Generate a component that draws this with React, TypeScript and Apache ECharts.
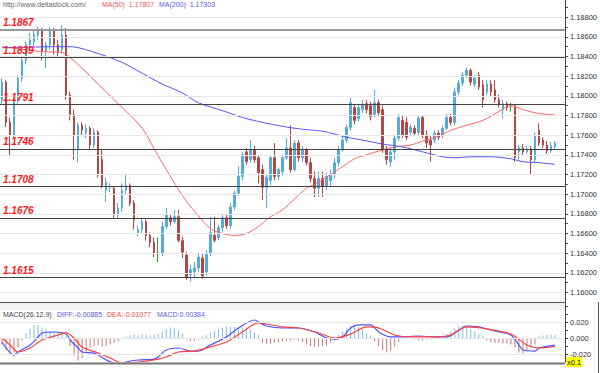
import React, { useEffect, useRef } from "react";
import * as echarts from "echarts";

// Candles: [open, close, low, high]
const candles: number[][] = [
  [1.1796, 1.1814, 1.1792, 1.1818], [1.1814, 1.1773, 1.1768, 1.1816], [1.1773, 1.1760, 1.1740, 1.1778],
  [1.1760, 1.1796, 1.1757, 1.1799], [1.1796, 1.1818, 1.1792, 1.1821], [1.1818, 1.1836, 1.1814, 1.1840],
  [1.1836, 1.1852, 1.1832, 1.1855], [1.1852, 1.1857, 1.1845, 1.1864], [1.1855, 1.1862, 1.1850, 1.1867],
  [1.1862, 1.1867, 1.1857, 1.1870], [1.1867, 1.1845, 1.1836, 1.1869], [1.1845, 1.1852, 1.1828, 1.1855],
  [1.1852, 1.1867, 1.1847, 1.1870], [1.1867, 1.1852, 1.1842, 1.1869], [1.1852, 1.1845, 1.1840, 1.1857],
  [1.1847, 1.1862, 1.1843, 1.1872], [1.1862, 1.1801, 1.1796, 1.1869], [1.1801, 1.1781, 1.1775, 1.1804],
  [1.1781, 1.1760, 1.1735, 1.1786], [1.1745, 1.1770, 1.1732, 1.1773], [1.1770, 1.1765, 1.1759, 1.1773],
  [1.1763, 1.1767, 1.1757, 1.1771], [1.1767, 1.1750, 1.1745, 1.1769], [1.1750, 1.1763, 1.1747, 1.1767],
  [1.1763, 1.1720, 1.1717, 1.1765], [1.1735, 1.1709, 1.1706, 1.1745], [1.1704, 1.1712, 1.1692, 1.1717],
  [1.1707, 1.1708, 1.1702, 1.1711], [1.1706, 1.1679, 1.1676, 1.1708], [1.1679, 1.1686, 1.1675, 1.1691],
  [1.1686, 1.1704, 1.1682, 1.1711], [1.1704, 1.1709, 1.1700, 1.1720], [1.1709, 1.1691, 1.1688, 1.1711],
  [1.1691, 1.1674, 1.1664, 1.1694], [1.1660, 1.1664, 1.1657, 1.1668], [1.1664, 1.1672, 1.1660, 1.1676],
  [1.1672, 1.1658, 1.1653, 1.1674], [1.1658, 1.1651, 1.1646, 1.1661], [1.1651, 1.1640, 1.1636, 1.1656],
  [1.1640, 1.1640, 1.1631, 1.1656], [1.1640, 1.1667, 1.1637, 1.1672], [1.1667, 1.1679, 1.1664, 1.1686],
  [1.1676, 1.1672, 1.1668, 1.1680], [1.1672, 1.1677, 1.1670, 1.1684], [1.1677, 1.1653, 1.1651, 1.1684],
  [1.1653, 1.1641, 1.1635, 1.1657], [1.1638, 1.1616, 1.1613, 1.1641], [1.1618, 1.1623, 1.1611, 1.1628],
  [1.1621, 1.1625, 1.1615, 1.1631], [1.1625, 1.1636, 1.1621, 1.1641], [1.1635, 1.1617, 1.1614, 1.1639],
  [1.1621, 1.1640, 1.1617, 1.1643], [1.1640, 1.1661, 1.1637, 1.1677], [1.1658, 1.1653, 1.1651, 1.1677],
  [1.1656, 1.1666, 1.1653, 1.1669], [1.1666, 1.1676, 1.1662, 1.1679], [1.1676, 1.1668, 1.1665, 1.1679],
  [1.1668, 1.1687, 1.1665, 1.1691], [1.1687, 1.1701, 1.1684, 1.1704], [1.1701, 1.1718, 1.1698, 1.1728],
  [1.1718, 1.1740, 1.1714, 1.1743], [1.1743, 1.1733, 1.1730, 1.1747], [1.1735, 1.1745, 1.1732, 1.1755],
  [1.1745, 1.1735, 1.1732, 1.1749], [1.1737, 1.1722, 1.1711, 1.1740], [1.1725, 1.1707, 1.1694, 1.1730],
  [1.1707, 1.1717, 1.1686, 1.1720], [1.1714, 1.1737, 1.1709, 1.1740], [1.1737, 1.1718, 1.1714, 1.1752],
  [1.1718, 1.1725, 1.1714, 1.1727], [1.1723, 1.1737, 1.1719, 1.1740], [1.1737, 1.1747, 1.1735, 1.1757],
  [1.1747, 1.1725, 1.1722, 1.1770], [1.1725, 1.1752, 1.1723, 1.1755], [1.1752, 1.1737, 1.1733, 1.1755],
  [1.1737, 1.1745, 1.1733, 1.1749], [1.1745, 1.1732, 1.1729, 1.1747], [1.1732, 1.1716, 1.1712, 1.1737],
  [1.1716, 1.1706, 1.1697, 1.1723], [1.1706, 1.1716, 1.1697, 1.1723], [1.1716, 1.1708, 1.1697, 1.1723],
  [1.1708, 1.1718, 1.1704, 1.1722], [1.1714, 1.1720, 1.1708, 1.1725], [1.1720, 1.1732, 1.1716, 1.1737],
  [1.1732, 1.1745, 1.1728, 1.1749], [1.1745, 1.1755, 1.1743, 1.1760], [1.1755, 1.1768, 1.1752, 1.1771],
  [1.1768, 1.1793, 1.1765, 1.1798], [1.1788, 1.1775, 1.1771, 1.1792], [1.1777, 1.1788, 1.1774, 1.1792],
  [1.1786, 1.1791, 1.1783, 1.1796], [1.1792, 1.1786, 1.1782, 1.1796], [1.1790, 1.1779, 1.1775, 1.1794],
  [1.1781, 1.1793, 1.1778, 1.1806], [1.1793, 1.1783, 1.1779, 1.1796], [1.1786, 1.1745, 1.1742, 1.1790],
  [1.1745, 1.1735, 1.1730, 1.1749], [1.1733, 1.1743, 1.1728, 1.1747], [1.1743, 1.1757, 1.1735, 1.1760],
  [1.1757, 1.1778, 1.1754, 1.1782], [1.1775, 1.1760, 1.1757, 1.1780], [1.1773, 1.1758, 1.1755, 1.1778],
  [1.1763, 1.1768, 1.1760, 1.1771], [1.1767, 1.1762, 1.1759, 1.1770], [1.1763, 1.1777, 1.1760, 1.1780],
  [1.1778, 1.1760, 1.1757, 1.1780], [1.1760, 1.1752, 1.1747, 1.1765], [1.1755, 1.1750, 1.1733, 1.1760],
  [1.1755, 1.1762, 1.1752, 1.1765], [1.1762, 1.1758, 1.1755, 1.1765], [1.1760, 1.1767, 1.1757, 1.1770],
  [1.1767, 1.1778, 1.1765, 1.1782], [1.1778, 1.1773, 1.1770, 1.1782], [1.1773, 1.1804, 1.1770, 1.1808],
  [1.1804, 1.1813, 1.1801, 1.1816], [1.1813, 1.1821, 1.1810, 1.1824], [1.1821, 1.1826, 1.1818, 1.1829],
  [1.1826, 1.1814, 1.1811, 1.1828], [1.1812, 1.1818, 1.1809, 1.1821], [1.1821, 1.1809, 1.1806, 1.1824],
  [1.1811, 1.1796, 1.1788, 1.1816], [1.1804, 1.1812, 1.1801, 1.1816], [1.1812, 1.1804, 1.1800, 1.1816],
  [1.1806, 1.1796, 1.1793, 1.1816], [1.1796, 1.1791, 1.1788, 1.1801], [1.1786, 1.1792, 1.1777, 1.1796],
  [1.1792, 1.1788, 1.1785, 1.1794], [1.1790, 1.1790, 1.1784, 1.1793], [1.1790, 1.1737, 1.1733, 1.1792],
  [1.1743, 1.1747, 1.1735, 1.1750], [1.1747, 1.1743, 1.1740, 1.1751], [1.1743, 1.1746, 1.1741, 1.1749],
  [1.1746, 1.1735, 1.1720, 1.1749], [1.1735, 1.1760, 1.1732, 1.1763], [1.1765, 1.1752, 1.1749, 1.1772],
  [1.1755, 1.1750, 1.1747, 1.1758], [1.1750, 1.1744, 1.1741, 1.1754], [1.1744, 1.1749, 1.1742, 1.1753],
  [1.1748, 1.17519, 1.1746, 1.1754],
];
const dojiIndices = [39, 127];

// Moving averages as [candle index, value]
const ma50Points: number[][] = [
  [0, 1.1850], [10, 1.1845], [15, 1.1844], [17, 1.1839], [20, 1.1828], [24, 1.1812], [29, 1.1792],
  [35, 1.1767], [38, 1.1746], [41, 1.1725], [44, 1.1705], [46, 1.1693], [49, 1.1678], [52, 1.1665],
  [55, 1.1660], [58, 1.1658], [61, 1.1660], [64, 1.1667], [67, 1.1677], [70, 1.1684], [73, 1.1695],
  [76, 1.1706], [79, 1.1712], [82, 1.1720], [85, 1.1728], [88, 1.1736], [91, 1.1740], [95, 1.1745],
  [98, 1.1748], [102, 1.1750], [105, 1.1754], [109, 1.1759], [112, 1.1765], [116, 1.1770], [120, 1.1775],
  [124, 1.1784], [127, 1.1790], [130, 1.1786], [134, 1.1782], [138, 1.17807],
];
const ma200Points: number[][] = [
  [0, 1.1849], [15, 1.1850], [17, 1.1850], [24, 1.1843], [30, 1.1834], [35, 1.1823], [40, 1.1812],
  [45, 1.1803], [49, 1.1793], [55, 1.1785], [60, 1.1778], [65, 1.1773], [70, 1.1769], [75, 1.1766],
  [80, 1.1764], [86, 1.1758], [90, 1.1755], [95, 1.1751], [100, 1.1748], [105, 1.1743], [110, 1.1738],
  [113, 1.1737], [117, 1.1738], [122, 1.1738], [127, 1.1736], [130, 1.1733], [134, 1.1732], [138, 1.17303],
];

// MACD histogram, one per candle
const macdHist: number[] = [
  -0.008, -0.015, -0.02, -0.018, -0.012, -0.003, 0.006, 0.012, 0.016, 0.016,
  0.013, 0.011, 0.009, 0.008, 0.007, 0.005, 0.003, -0.01, -0.022, -0.028,
  -0.025, -0.018, -0.012, -0.01, -0.009, -0.011, -0.01, -0.008, -0.006, -0.004,
  -0.001, 0.002, 0.003, 0.004, 0.003, 0.004, 0.004, 0.003, 0.004, 0.005,
  0.008, 0.011, 0.013, 0.012, 0.01, 0.006, -0.002, -0.004, -0.004, -0.002,
  0.002, 0.004, 0.007, 0.009, 0.011, 0.013, 0.014, 0.014, 0.014, 0.013,
  0.013, 0.012, 0.01, 0.007, 0.004, -0.006, -0.007, -0.007, -0.006, -0.005,
  -0.004, -0.003, -0.003, -0.002, -0.003, -0.005, -0.008, -0.01, -0.011, -0.011,
  -0.01, -0.009, -0.006, -0.003, 0.004, 0.008, 0.012, 0.015, 0.016, 0.014,
  0.01, 0.006, 0.003, -0.004, -0.01, -0.015, -0.018, -0.016, -0.011, -0.005,
  0.002, 0.002, 0.001, -0.002, -0.003, -0.003, -0.002, -0.002, 0.001, 0.002,
  0.003, 0.005, 0.008, 0.012, 0.015, 0.016, 0.014, 0.011, 0.008, 0.005,
  0.003, -0.003, -0.005, -0.006, -0.006, -0.007, -0.007, -0.008, -0.012, -0.018,
  -0.019, -0.016, -0.012, -0.008, 0.002, 0.003, 0.004, 0.004, 0.00384,
];
const diffPoints: number[][] = [
  [0, -0.005], [3, -0.0213], [4, -0.0175], [7, -0.0088], [9, 0.0013], [10, 0.0063], [13, 0.0075],
  [16, 0.005], [17, -0.0025], [19, -0.0125], [20, -0.0175], [23, -0.0188], [24, -0.0213], [26, -0.0275],
  [28, -0.0313], [30, -0.0325], [31, -0.03], [34, -0.0275], [38, -0.0263], [39, -0.0238], [41, -0.015],
  [44, -0.0125], [47, -0.0163], [49, -0.0163], [52, -0.0088], [56, 0.0013], [59, 0.0125], [63, 0.0225],
  [64, 0.02], [66, 0.015], [70, 0.0125], [74, 0.0125], [78, 0.0075], [81, 0], [83, -0.0013], [85, 0.0013],
  [87, 0.0125], [89, 0.0163], [92, 0.0163], [94, 0.0075], [97, 0.0013], [99, 0.0013], [104, 0.0025],
  [108, 0.0013], [111, 0.0013], [114, 0.01], [116, 0.015], [119, 0.0138], [121, 0.0113], [124, 0.0075],
  [127, 0.0038], [129, -0.0088], [130, -0.015], [133, -0.0163], [134, -0.0125], [138, -0.00885],
];
const deaPoints: number[][] = [
  [0, 0], [2, -0.0088], [4, -0.0175], [7, -0.0125], [10, -0.0025], [14, 0.0038], [16, 0.0063], [18, 0],
  [20, -0.0113], [24, -0.0188], [27, -0.025], [30, -0.0313], [34, -0.03], [39, -0.0263], [41, -0.0238],
  [44, -0.0175], [48, -0.0163], [51, -0.0125], [56, -0.005], [60, 0.0075], [64, 0.0188], [66, 0.0175],
  [70, 0.0138], [74, 0.0125], [79, 0.0063], [83, 0], [87, 0.005], [91, 0.0138], [94, 0.0125], [98, 0.0038],
  [102, 0.0013], [108, 0.0013], [112, 0.0038], [116, 0.0138], [121, 0.0113], [127, 0.005], [131, -0.0088],
  [134, -0.0125], [138, -0.01077],
];

const levels = [1.1867, 1.1839, 1.1791, 1.1746, 1.1708, 1.1676, 1.1615];
const priceLabels = [1.160, 1.162, 1.164, 1.166, 1.168, 1.170, 1.172, 1.174, 1.176, 1.178, 1.180, 1.182, 1.184, 1.186, 1.188];
const priceTicks = [
  1.159, 1.160, 1.161, 1.162, 1.163, 1.164, 1.165, 1.166, 1.167, 1.168, 1.169, 1.170, 1.171, 1.172, 1.173,
  1.174, 1.175, 1.176, 1.177, 1.178, 1.179, 1.180, 1.181, 1.182, 1.183, 1.184, 1.185, 1.186, 1.187, 1.188, 1.189,
];
const macdLabels = [-0.02, 0, 0.02];
const macdTicks = [-0.02, -0.01, 0, 0.01, 0.02, 0.03, 0.04];
const lastClose = 1.17519;
const ma50Last = 1.17807;
const ma200Last = 1.17303;
const diffLast = -0.00885;
const deaLast = -0.01077;
const macdLast = 0.00384;
const categories = [...candles.map((_, i) => "c" + i), "p1", "p2"];

const FONT = "Liberation Sans";
const UP = "#55abdc";
const DOWN = "#b64646";

export default function App() {
  const ref = useRef<HTMLDivElement>(null);
  useEffect(() => {
    if (!ref.current) return;
    const chart = echarts.init(ref.current, undefined, { renderer: "svg" });
    const candleData = candles.map((c, i) =>
      dojiIndices.includes(i)
        ? { value: c, itemStyle: { color: "#2f9a2f", color0: "#2f9a2f", borderColor: "#2f9a2f", borderColor0: "#2f9a2f" } }
        : c
    );
    const histData = macdHist.map((v) => ({ value: v, itemStyle: { color: v >= 0 ? "#7dbde2" : "#c27878" } }));
    const axisLabelBase = { color: "#333", fontSize: 7.5, fontFamily: FONT, margin: 5 };
    const hidden = { opacity: 0, width: 0 };
    const option: any = {
      animation: false,
      grid: [
        { left: 0, right: 35, top: 0, height: 302 },
        { left: 0, right: 35, top: 303, height: 59 },
      ],
      xAxis: [
        { type: "category", gridIndex: 0, data: categories, boundaryGap: true, show: false },
        { type: "category", gridIndex: 1, data: categories, boundaryGap: true, show: false },
      ],
      yAxis: [
        {
          type: "value", gridIndex: 0, position: "right", min: 1.15903, max: 1.18975, scale: true,
          axisLine: { show: true, lineStyle: { color: "#444", width: 1 } },
          axisTick: { show: true, customValues: priceTicks, length: 3, lineStyle: { color: "#444" } },
          axisLabel: { ...axisLabelBase, customValues: priceLabels, formatter: (v: number) => v.toFixed(5) },
          splitLine: { show: false },
        },
        {
          type: "value", gridIndex: 1, position: "right", min: -0.03, max: 0.04375,
          axisLine: { show: true, lineStyle: { color: "#444", width: 1 } },
          axisTick: { show: true, customValues: macdTicks, length: 3, lineStyle: { color: "#444" } },
          axisLabel: { ...axisLabelBase, customValues: macdLabels, formatter: (v: number) => v.toFixed(3) },
          splitLine: { show: false },
        },
      ],
      graphic: [
        { type: "rect", shape: { x: 0, y: 303, width: 565, height: 7 }, style: { fill: "#f1f1f1" }, z: 0, silent: true },
        { type: "line", shape: { x1: 0, y1: 302.5, x2: 565, y2: 302.5 }, style: { stroke: "#555", lineWidth: 1 }, z: 10 },
        { type: "line", shape: { x1: 0, y1: 363.5, x2: 565, y2: 363.5 }, style: { stroke: "#777", lineWidth: 2 }, z: 10 },
        { type: "line", shape: { x1: 598.5, y1: 302, x2: 598.5, y2: 373 }, style: { stroke: "#555", lineWidth: 1 }, z: 10 },
        { type: "text", x: 3, y: 1, style: { text: "http://www.deltastock.com/", fill: "#666", fontSize: 7, fontFamily: FONT }, z: 20 },
        { type: "text", x: 102, y: 1, style: { text: "MA(50)  " + ma50Last.toFixed(5), fill: "#f05858", fontSize: 7, fontFamily: FONT }, z: 20 },
        { type: "text", x: 159, y: 1, style: { text: "MA(200)  " + ma200Last.toFixed(5), fill: "#5858e8", fontSize: 7, fontFamily: FONT }, z: 20 },
        { type: "text", x: 3, y: 311, style: { text: "MACD(26.12.9)", fill: "#444", fontSize: 7, fontFamily: FONT }, z: 20 },
        { type: "text", x: 57, y: 311, style: { text: "DIFF:" + diffLast.toFixed(5), fill: "#5050f0", fontSize: 7, fontFamily: FONT }, z: 20 },
        { type: "text", x: 107, y: 311, style: { text: "DEA:" + deaLast.toFixed(5), fill: "#f04848", fontSize: 7, fontFamily: FONT }, z: 20 },
        { type: "text", x: 157, y: 311, style: { text: "MACD:" + macdLast.toFixed(5), fill: "#6060e0", fontSize: 7, fontFamily: FONT }, z: 20 },
        {
          type: "text", x: 566, y: 357,
          style: { text: "x0.1", fill: "#222", fontSize: 7.5, fontFamily: FONT, backgroundColor: "#ffff00", padding: [1, 1] },
          z: 20,
        },
      ],
      series: [
        {
          // invisible host for price grid lines (behind candles)
          type: "line", xAxisIndex: 0, yAxisIndex: 0, data: ma200Points, z: 1, silent: true,
          showSymbol: false, lineStyle: hidden,
          markLine: {
            silent: true, symbol: ["none", "none"], animation: false, precision: 5, label: { show: false },
            data: priceLabels.map((v) => ({ yAxis: v, lineStyle: { color: "#e8e8e8", width: 1, type: "solid" } })),
          },
        },
        {
          // invisible host for MACD grid lines
          type: "line", xAxisIndex: 1, yAxisIndex: 1, data: deaPoints, z: 1, silent: true,
          showSymbol: false, lineStyle: hidden,
          markLine: {
            silent: true, symbol: ["none", "none"], animation: false, precision: 5, label: { show: false },
            data: macdLabels.map((v) => ({ yAxis: v, lineStyle: { color: "#e8e8e8", width: 1, type: "solid" } })),
          },
        },
        {
          type: "candlestick", xAxisIndex: 0, yAxisIndex: 0, data: candleData, barWidth: 2, z: 3,
          itemStyle: { color: UP, color0: DOWN, borderColor: UP, borderColor0: DOWN, borderWidth: 1 },
          markLine: {
            silent: true, symbol: ["none", "none"], animation: false, precision: 5,
            data: [
              {
                yAxis: lastClose, lineStyle: { opacity: 0 },
                label: {
                  show: true, position: "end", distance: 2, formatter: lastClose.toFixed(5),
                  color: "#222", fontSize: 7.5, fontFamily: FONT, backgroundColor: "#a8d6f2",
                  borderColor: "#3d9ad6", borderWidth: 1, padding: [1, 2],
                },
              },
            ],
          },
        },
        {
          type: "line", xAxisIndex: 0, yAxisIndex: 0, data: ma50Points, smooth: 0.3, showSymbol: false, z: 4,
          lineStyle: { color: "#ff6464", width: 1 }, silent: true,
        },
        {
          type: "line", xAxisIndex: 0, yAxisIndex: 0, data: ma200Points, smooth: 0.3, showSymbol: false, z: 4,
          lineStyle: { color: "#5555ee", width: 1 }, silent: true,
        },
        {
          // invisible host for support/resistance levels (above candles)
          type: "line", xAxisIndex: 0, yAxisIndex: 0, data: ma50Points, z: 5, silent: true,
          showSymbol: false, lineStyle: hidden,
          markLine: {
            silent: true, symbol: ["none", "none"], animation: false, precision: 5,
            data: levels.map((v, i) => ({
              yAxis: v,
              lineStyle: i === 0 ? { color: "#9a9a9a", width: 2, type: "solid" } : { color: "#444", width: 1, type: "solid" },
              label: {
                show: true, position: "insideStartTop", distance: [3, 2], formatter: v.toFixed(4),
                color: "#ff1a1a", fontStyle: "italic", fontWeight: "bold", fontSize: 10, fontFamily: FONT,
              },
            })),
          },
        },
        {
          type: "bar", xAxisIndex: 1, yAxisIndex: 1, data: histData, barWidth: 1, z: 2, silent: true,
        },
        {
          type: "line", xAxisIndex: 1, yAxisIndex: 1, data: diffPoints, smooth: 0.3, showSymbol: false, z: 4,
          lineStyle: { color: "#5050ff", width: 1.2 }, silent: true,
        },
        {
          type: "line", xAxisIndex: 1, yAxisIndex: 1, data: deaPoints, smooth: 0.3, showSymbol: false, z: 4,
          lineStyle: { color: "#ff4040", width: 1.2 }, silent: true,
        },
      ],
    };
    chart.setOption(option);
    return () => chart.dispose();
  }, []);
  return <div ref={ref} style={{ position: "fixed", left: 0, top: 0, width: 600, height: 373, background: "#fff" }} />;
}
